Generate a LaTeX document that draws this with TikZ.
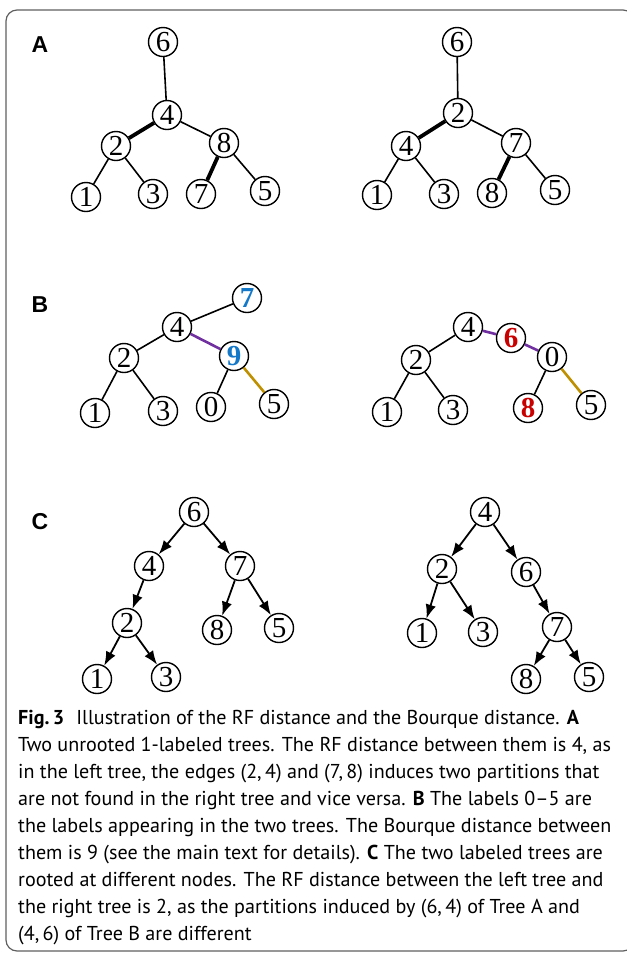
\documentclass[tikz,border=0pt]{standalone}
\usepackage{fontspec}
\setmainfont{Liberation Serif}
\newfontfamily\capfont[Ligatures=TeX]{PT Sans}
\newfontfamily\labfont{Liberation Sans}
\usetikzlibrary{arrows.meta}
\definecolor{frameg}{RGB}{95,95,95}
\definecolor{tblue}{RGB}{20,120,200}
\definecolor{tred}{RGB}{200,0,0}
\definecolor{tpurple}{RGB}{112,48,160}
\definecolor{tgold}{RGB}{190,144,0}
\begin{document}
\begin{tikzpicture}[x=1pt,y=-1pt,
  tn/.style={circle,draw,line width=1.4pt,minimum size=29pt,inner sep=0pt,font=\fontsize{29}{29}\selectfont},
  bnum/.style={font=\bfseries\fontsize{29}{29}\selectfont},
  edg/.style={line width=1.6pt},
  thk/.style={line width=3.8pt},
  pur/.style={line width=2.6pt,draw=tpurple},
  gld/.style={line width=2.6pt,draw=tgold},
  arr/.style={line width=1.8pt,-{Latex[length=14pt,width=10.5pt]}},
  panel/.style={font=\labfont\bfseries\fontsize{23}{23}\selectfont},
  capline/.style={anchor=base west,inner sep=0pt,font=\capfont\fontsize{20.1}{20.1}\selectfont}]
\useasboundingbox (0,0) rectangle (627,954);
\draw[frameg,line width=1.2pt,rounded corners=11pt] (6,10) rectangle (634,951);

% Panel labels
\node[panel] (la) at (40,45) {A};
\node[panel] (lb) at (40,305) {B};
\node[panel] (lc) at (40,522) {C};

% ---------- Panel A left
\node[tn] (a6) at (163,42) {6};
\node[tn] (a4) at (167,115) {4};
\node[tn] (a2) at (116,146) {2};
\node[tn] (a8) at (224,143) {8};
\node[tn] (a1) at (86,197) {1};
\node[tn] (a3) at (153,194) {3};
\node[tn] (a7) at (201,194) {7};
\node[tn] (a5) at (265,191) {5};
\draw[edg] (a6) -- (a4);
\draw[thk] (a4) -- (a2);
\draw[edg] (a4) -- (a8);
\draw[edg] (a2) -- (a1);
\draw[edg] (a2) -- (a3);
\draw[thk] (a8) -- (a7);
\draw[edg] (a8) -- (a5);

% ---------- Panel A right
\node[tn] (b6) at (457,42) {6};
\node[tn] (b2) at (458,113) {2};
\node[tn] (b4) at (406,146) {4};
\node[tn] (b7) at (516,143) {7};
\node[tn] (b1) at (377,195) {1};
\node[tn] (b3) at (444,194) {3};
\node[tn] (b8) at (492,193) {8};
\node[tn] (b5) at (555,190) {5};
\draw[edg] (b6) -- (b2);
\draw[thk] (b2) -- (b4);
\draw[edg] (b2) -- (b7);
\draw[edg] (b4) -- (b1);
\draw[edg] (b4) -- (b3);
\draw[thk] (b7) -- (b8);
\draw[edg] (b7) -- (b5);

% ---------- Panel B left
\node[tn,bnum,text=tblue] (c7) at (247,298) {7};
\node[tn] (c4) at (177,327) {4};
\node[tn] (c2) at (124,358) {2};
\node[tn,bnum,text=tblue] (c9) at (234,356) {9};
\node[tn] (c1) at (95,413) {1};
\node[tn] (c3) at (163,411) {3};
\node[tn] (c0) at (211,407) {0};
\node[tn] (c5) at (274,404) {5};
\draw[edg] (c4) -- (c7);
\draw[edg] (c4) -- (c2);
\draw[pur] (c4) -- (c9);
\draw[edg] (c2) -- (c1);
\draw[edg] (c2) -- (c3);
\draw[edg] (c9) -- (c0);
\draw[gld] (c9) -- (c5);

% ---------- Panel B right
\node[tn] (d4) at (468,327) {4};
\node[tn,bnum,text=tred] (d6) at (511,338) {6};
\node[tn] (d0) at (552,357) {0};
\node[tn] (d2) at (416,360) {2};
\node[tn] (d1) at (387,412) {1};
\node[tn] (d3) at (453,410) {3};
\node[tn,bnum,text=tred] (d8) at (528,408) {8};
\node[tn] (d5) at (591,405) {5};
\draw[pur] (d4) -- (d6);
\draw[pur] (d6) -- (d0);
\draw[edg] (d4) -- (d2);
\draw[edg] (d2) -- (d1);
\draw[edg] (d2) -- (d3);
\draw[edg] (d0) -- (d8);
\draw[gld] (d0) -- (d5);

% ---------- Panel C left
\node[tn] (e6) at (194,512) {6};
\node[tn] (e4) at (149,566) {4};
\node[tn] (e7) at (240,566) {7};
\node[tn] (e2) at (127,623) {2};
\node[tn] (e8) at (217,630) {8};
\node[tn] (e5) at (279,628) {5};
\node[tn] (e1) at (97,679) {1};
\node[tn] (e3) at (166,677) {3};
\draw[arr] (e6) -- (e4);
\draw[arr] (e6) -- (e7);
\draw[arr] (e4) -- (e2);
\draw[arr] (e7) -- (e8);
\draw[arr] (e7) -- (e5);
\draw[arr] (e2) -- (e1);
\draw[arr] (e2) -- (e3);

% ---------- Panel C right
\node[tn] (f4) at (485,512) {4};
\node[tn] (f2) at (442,569) {2};
\node[tn] (f6) at (526,572) {6};
\node[tn] (f1) at (422,633) {1};
\node[tn] (f3) at (483,632) {3};
\node[tn] (f7) at (557,627) {7};
\node[tn] (f8) at (526,679) {8};
\node[tn] (f5) at (589,677) {5};
\draw[arr] (f4) -- (f2);
\draw[arr] (f4) -- (f6);
\draw[arr] (f2) -- (f1);
\draw[arr] (f2) -- (f3);
\draw[arr] (f6) -- (f7);
\draw[arr] (f7) -- (f8);
\draw[arr] (f7) -- (f5);

% ---------- Caption
\node[capline] (t1) at (18,724) {\textbf{Fig.\,3}\hspace{0.6em}Illustration of the RF distance and the Bourque distance. \textbf{A}};
\node[capline] (t2) at (18,751) {Two unrooted 1-labeled trees. The RF distance between them is 4, as};
\node[capline] (t3) at (18,778) {in the left tree, the edges (2,\,4) and (7,\,8) induces two partitions that};
\node[capline] (t4) at (18,805) {are not found in the right tree and vice versa. \textbf{B} The labels 0–5 are};
\node[capline] (t5) at (18,832) {the labels appearing in the two trees. The Bourque distance between};
\node[capline] (t6) at (18,859) {them is 9 (see the main text for details). \textbf{C} The two labeled trees are};
\node[capline] (t7) at (18,886) {rooted at different nodes. The RF distance between the left tree and};
\node[capline] (t8) at (18,913) {the right tree is 2, as the partitions induced by (6,\,4) of Tree A and};
\node[capline] (t9) at (18,940) {(4,\,6) of Tree B are different};
\end{tikzpicture}
\end{document}
